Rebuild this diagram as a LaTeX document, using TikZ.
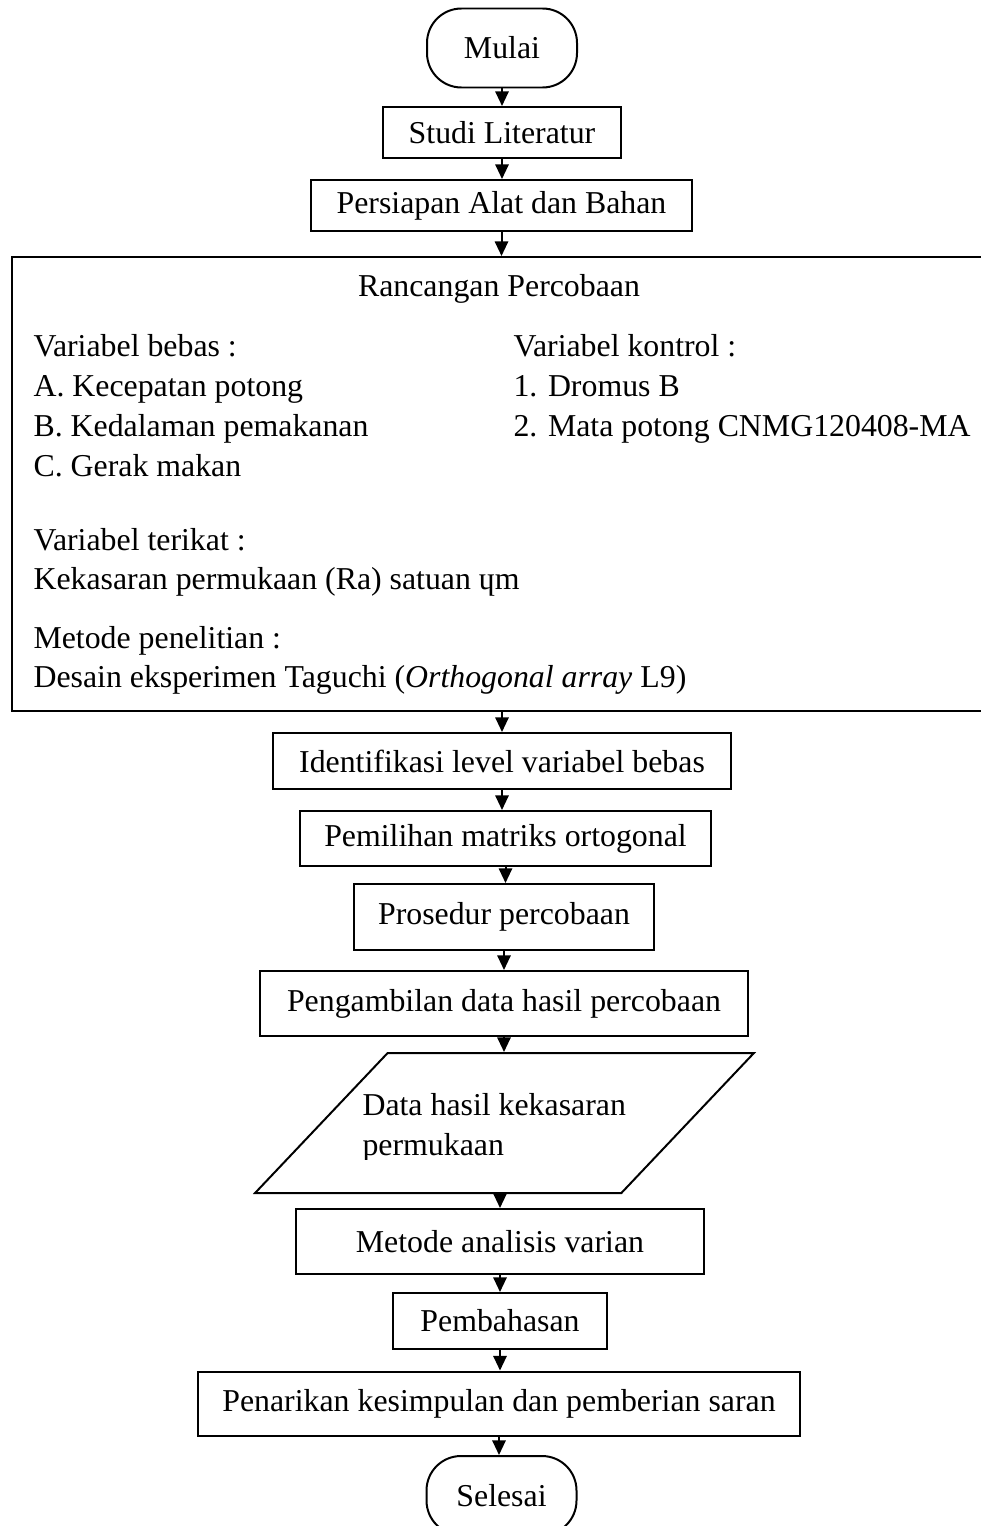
\documentclass[tikz,border=0pt]{standalone}
\usepackage{fontspec}
\setmainfont{Liberation Serif}
\usetikzlibrary{shapes.geometric,arrows.meta}

\newcommand{\pix}{0.377pt}

\tikzset{
  dims/.style 2 args={minimum width=#1*\pix,minimum height=#2*\pix},
  box/.style={draw,line width=0.75pt,inner sep=0pt},
  term/.style={box,rounded corners=13pt},
  io/.style={box,trapezium,trapezium left angle=52.4,trapezium right angle=127.6,trapezium stretches=true},
  txt/.style={anchor=base west,inner sep=0pt},
  arr/.style={line width=0.75pt,-{Triangle[length=5.5pt,width=5pt]}}
}

\begin{document}
\begin{tikzpicture}[x=\pix,y=-\pix,font=\fontsize{12}{14.8}\selectfont]
\useasboundingbox (0,0) rectangle (981,1526);
\clip (0,0) rectangle (981,1526);

\node[term,dims={150}{79}] (mulai) at (502,48) {Mulai};
\node[box,dims={238}{51}] (studi) at (502,132.5) {Studi Literatur};
\node[box,dims={381}{51}] (persiapan) at (501.5,205.5) {Persiapan Alat dan Bahan};

% kotak rancangan, sisi kanan terpotong
\node[box,line width=0.8pt,anchor=north west,dims={1100}{454}] (rancangan) at (11,256) {};
\node[anchor=base,inner sep=0pt] (judul) at (499,296) {Rancangan Percobaan};
\node[txt] (bebas) at (33,356) {Variabel bebas :};
\node[txt] (va) at (33,396) {A. Kecepatan potong};
\node[txt] (vb) at (33,436) {B. Kedalaman pemakanan};
\node[txt] (vc) at (33,476) {C. Gerak makan};
\node[txt] (kontrol) at (513,356) {Variabel kontrol :};
\node[txt] (k1) at (513,396) {1. Dromus B};
\node[txt] (k2) at (513,436) {2. Mata potong CNMG120408-MA};
\node[txt] (terikat) at (33,550) {Variabel terikat :};
\node[txt] (ra) at (33,589) {Kekasaran permukaan (Ra) satuan ɥm};
\node[txt] (metpen) at (33,648) {Metode penelitian :};
\node[txt] (taguchi) at (33,687) {Desain eksperimen Taguchi (\textit{Orthogonal array} L9)};

\node[box,dims={458}{56}] (identifikasi) at (502,761) {Identifikasi level variabel bebas};
\node[box,dims={411}{55}] (pemilihan) at (505.5,838.5) {Pemilihan matriks ortogonal};
\node[box,dims={300}{66}] (prosedur) at (504,917) {Prosedur percobaan};
\node[box,dims={488}{65}] (pengambilan) at (504,1003.5) {Pengambilan data hasil percobaan};
\node[io,dims={499}{140}] (data) at (504.5,1123) {\phantom{M}};
\begin{scope}
  \clip (250,1050) rectangle (760,1159);
  \node[txt,align=left] (datatxt) at (362,1155) {Data hasil kekasaran\\permukaan};
\end{scope}
\node[box,dims={408}{65}] (metode) at (500,1241.5) {Metode analisis varian};
\node[box,dims={214}{56}] (pembahasan) at (500,1321) {Pembahasan};
\node[box,dims={602}{64}] (penarikan) at (499,1403.5) {Penarikan kesimpulan dan pemberian saran};
\node[term,dims={150}{79}] (selesai) at (501.5,1495.5) {Selesai};

\draw[arr] (mulai.south) -- (mulai.south |- studi.north);
\draw[arr] (studi.south) -- (studi.south |- persiapan.north);
\draw[arr] (persiapan.south) -- (persiapan.south |- rancangan.north);
\draw[arr] (identifikasi.north |- rancangan.south) -- (identifikasi.north);
\draw[arr] (identifikasi.south) -- (identifikasi.south |- pemilihan.north);
\draw[arr] (pemilihan.south) -- (pemilihan.south |- prosedur.north);
\draw[arr] (prosedur.south) -- (prosedur.south |- pengambilan.north);
\draw[arr] (pengambilan.south) -- (pengambilan.south |- data.north);
\draw[arr] (metode.north |- data.south) -- (metode.north);
\draw[arr] (metode.south) -- (metode.south |- pembahasan.north);
\draw[arr] (pembahasan.south) -- (pembahasan.south |- penarikan.north);
\draw[arr] (penarikan.south) -- (penarikan.south |- selesai.north);
\end{tikzpicture}
\end{document}
